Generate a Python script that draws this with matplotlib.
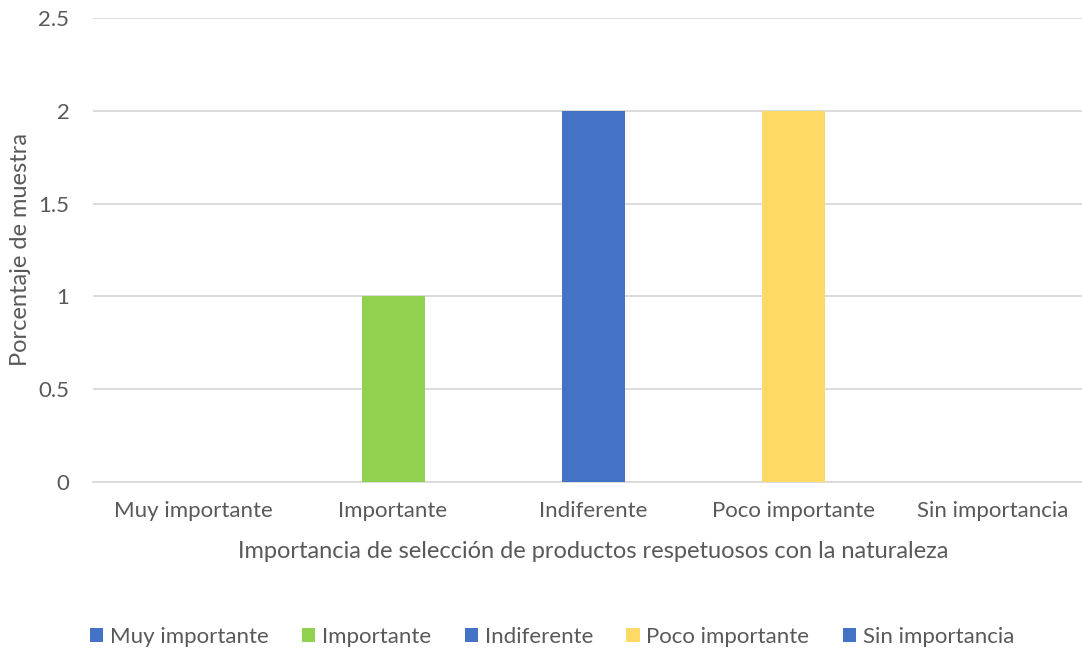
import matplotlib
matplotlib.use("Agg")
import matplotlib.pyplot as plt
from matplotlib.patches import Patch

categories = ["Muy importante", "Importante", "Indiferente", "Poco importante", "Sin importancia"]
values = [0, 1, 2, 2, 0]
colors = ["#4472C4", "#92D050", "#4472C4", "#FFD966", "#4472C4"]
y_ticks = [0, 0.5, 1, 1.5, 2, 2.5]
y_tick_labels = ["0", "0.5", "1", "1.5", "2", "2.5"]

plt.rcParams["font.family"] = ["Lato", "DejaVu Sans"]
text_color = "#595959"
grid_color = "#D9D9D9"

fig = plt.figure(figsize=(10.82, 6.53), dpi=100)
ax = fig.add_axes([93 / 1082, 1 - 482 / 653, 1000 / 1082, 464 / 653])

x = list(range(len(categories)))
ax.bar(x, values, width=0.315, color=colors, zorder=3)

ax.set_xlim(-0.5, len(categories) - 0.5)
ax.set_ylim(0, 2.5)
ax.set_yticks(y_ticks)
ax.set_yticklabels(y_tick_labels)
ax.set_xticks(x)
ax.set_xticklabels(categories)

ax.yaxis.grid(True, color=grid_color, linewidth=1.3, zorder=0)
for s in ["top", "right", "left"]:
    ax.spines[s].set_visible(False)
ax.spines["bottom"].set_color(grid_color)
ax.spines["bottom"].set_linewidth(1.3)
ax.tick_params(axis="both", length=0, labelsize=16, colors=text_color)
ax.tick_params(axis="y", pad=17)
ax.tick_params(axis="x", pad=14)

ax.set_ylabel("Porcentaje de muestra", fontsize=17, color=text_color, labelpad=5)
ax.set_xlabel("Importancia de selección de productos respetuosos con la naturaleza",
              fontsize=17, color=text_color, labelpad=14)

handles = [Patch(facecolor=c, edgecolor="none") for c in colors]
fig.legend(handles, categories, loc="center", bbox_to_anchor=(552 / 1082, 1 - 637 / 653),
           ncol=5, frameon=False, fontsize=16, labelcolor=text_color,
           handlelength=0.6, handleheight=0.6, handletextpad=0.3, columnspacing=1.5)

fig.savefig("out.png", dpi=100)
